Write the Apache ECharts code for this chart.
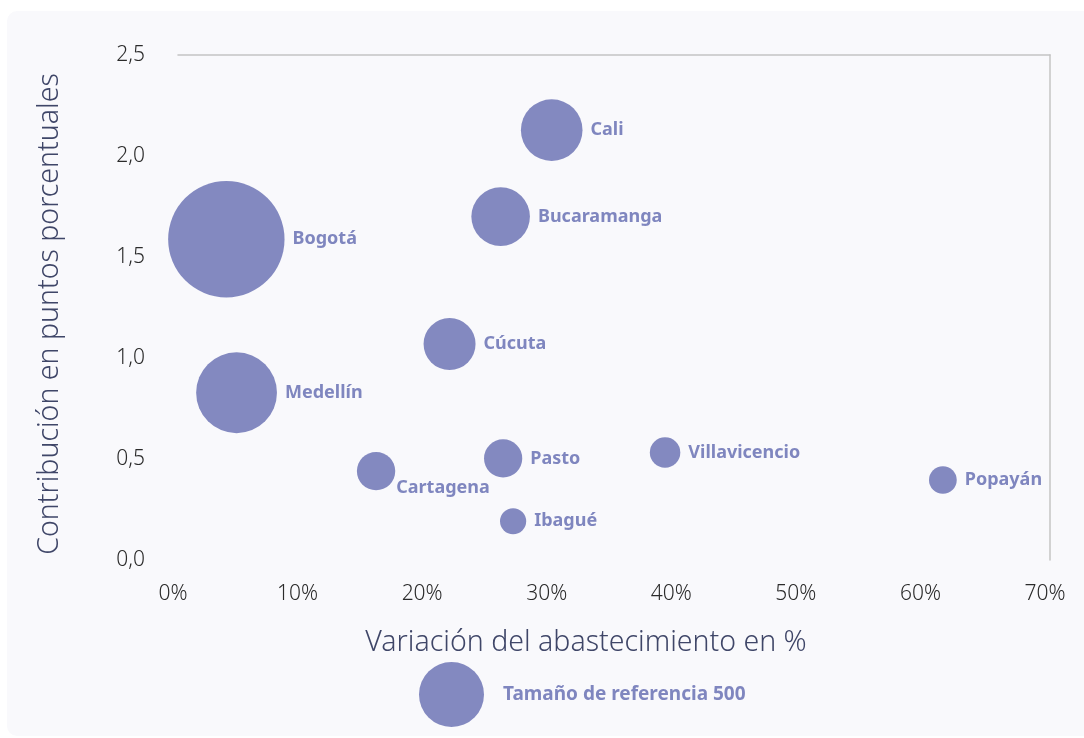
<!DOCTYPE html>
<html>
<head>
<meta charset="utf-8">
<script src="https://cdn.jsdelivr.net/npm/echarts@6/dist/echarts.min.js"></script>
<style>
html,body{margin:0;padding:0;background:#ffffff;width:1084px;height:738px;overflow:hidden;}
#panel{position:absolute;left:7px;top:11px;width:1100px;height:725px;background:#f9f9fc;border-radius:10px;}
#chart{position:absolute;left:0;top:0;width:1084px;height:738px;}
</style>
</head>
<body>
<div id="panel"></div>
<div id="chart"></div>
<script>
const cities = ['Bogotá','Medellín','Cali','Bucaramanga','Cúcuta','Cartagena','Pasto','Ibagué','Villavicencio','Popayán'];
const variacion = [0.0388, 0.0470, 0.300, 0.259, 0.218, 0.159, 0.261, 0.269, 0.391, 0.614];
const contribucion = [1.588, 0.828, 2.128, 1.700, 1.069, 0.440, 0.503, 0.192, 0.532, 0.396];
const tamano = [1603, 773, 449, 406, 320, 174, 173, 81, 110, 91];
const xTicks = ['0%','10%','20%','30%','40%','50%','60%','70%'];
const yTicks = ['0,0','0,5','1,0','1,5','2,0','2,5'];
const refSize = 500;
const legendName = 'Tamaño de referencia 500';

const color = '#8389c0';
const labelColor = '#7f86bf';
const font = "'Noto Sans', 'Open Sans', sans-serif";

const data = cities.map((c, i) => {
  const d = { name: c, value: [variacion[i], contribucion[i], tamano[i]] };
  if (c === 'Cartagena') {
    d.label = { position: ['100%', '100%'], offset: [1, -2], verticalAlign: 'middle', align: 'left' };
  }
  return d;
});

const chart = echarts.init(document.getElementById('chart'));
chart.setOption({
  backgroundColor: 'transparent',
  animation: false,
  textStyle: { fontFamily: font },
  grid: { left: 178, right: 34, top: 55, bottom: 178 },
  legend: {
    left: 419, top: 662, padding: 0,
    itemWidth: 65, itemHeight: 65,
    selectedMode: false,
    data: [{ name: legendName, icon: 'circle' }],
    textStyle: { color: labelColor, fontSize: 19, fontWeight: 'bold', fontFamily: font, padding: [0, 0, 0, 14] }
  },
  xAxis: [{
    type: 'value', min: 0, max: 0.7, interval: 0.1,
    name: 'Variación del abastecimiento en %',
    nameLocation: 'middle', nameGap: 68,
    nameTextStyle: { color: '#3f4668', fontSize: 28.5, fontWeight: 300, fontFamily: font, padding: [0, 56, 0, 0] },
    axisLine: { show: false }, axisTick: { show: false }, splitLine: { show: false },
    axisLabel: {
      color: '#2b2b2b', fontSize: 21, fontWeight: 300, margin: 24, padding: [0, 10, 0, 0],
      formatter: (v) => xTicks[Math.round(v * 10)]
    }
  }, {
    type: 'value', min: 0, max: 0.7, position: 'top',
    axisLine: { show: true, onZero: false, lineStyle: { color: '#c4c4c4', width: 1.5 } },
    axisTick: { show: false }, axisLabel: { show: false }, splitLine: { show: false }
  }],
  yAxis: [{
    type: 'value', min: 0, max: 2.5, interval: 0.5,
    name: 'Contribución en puntos porcentuales',
    nameLocation: 'middle', nameGap: 114,
    nameTextStyle: { color: '#3f4668', fontSize: 28.5, fontWeight: 300, fontFamily: font, padding: [0, 13, 0, 0] },
    axisLine: { show: false }, axisTick: { show: false }, splitLine: { show: false },
    axisLabel: {
      color: '#2b2b2b', fontSize: 21, fontWeight: 300, margin: 33,
      formatter: (v) => yTicks[Math.round(v * 2)]
    }
  }, {
    type: 'value', min: 0, max: 2.5, position: 'right',
    axisLine: { show: true, onZero: false, lineStyle: { color: '#c4c4c4', width: 1.5 } },
    axisTick: { show: false }, axisLabel: { show: false }, splitLine: { show: false }
  }],
  series: [{
    name: legendName,
    type: 'scatter',
    data: data,
    symbol: 'circle',
    symbolSize: (v) => 65 * Math.sqrt(v[2] / refSize),
    itemStyle: { color: color, opacity: 1 },
    label: {
      show: true, position: 'right', distance: 8,
      formatter: (p) => p.name,
      color: labelColor, fontSize: 18, fontWeight: 'bold', fontFamily: font
    },
    emphasis: { disabled: true }
  }]
});
</script>
</body>
</html>
